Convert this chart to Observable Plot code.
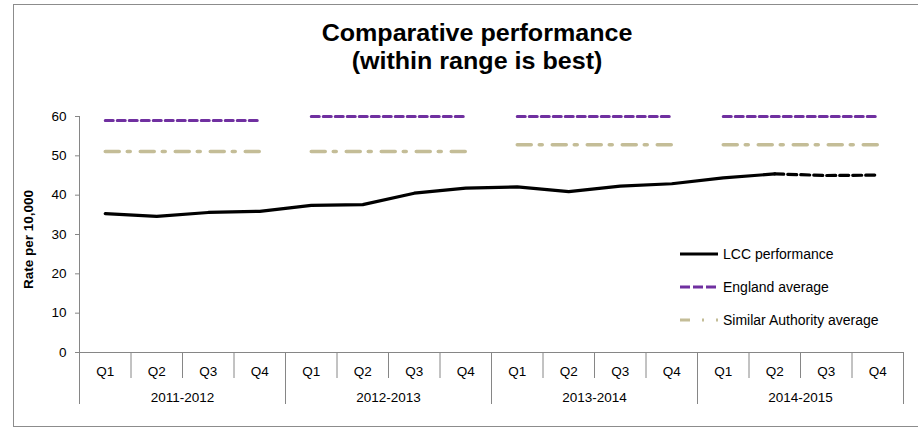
<!DOCTYPE html>
<html>
<head>
<meta charset="utf-8">
<script src="https://cdn.jsdelivr.net/npm/d3@7"></script>
<script src="https://cdn.jsdelivr.net/npm/@observablehq/plot@0.6"></script>
<style>
  html, body { margin: 0; padding: 0; background: #fff; overflow: hidden; }
  #wrap { position: relative; width: 918px; height: 428px; font-family: "Liberation Sans", Arial, sans-serif; }
  #border { position: absolute; left: 13px; top: 4px; width: 930px; height: 421px; border: 1px solid #8c8c8c; }
  #title { position: absolute; left: 0; top: 19px; width: 954px; text-align: center; font-weight: bold; font-size: 23px; line-height: 28px; color: #000; transform: scaleX(1.09); transform-origin: 477px 0; }
  #chart { position: absolute; left: 0; top: 0; }
  .leg { position: absolute; left: 680px; height: 20px; display: flex; align-items: center; font-size: 14px; color: #000; }
  .leg svg { display: block; margin-right: 4px; }
</style>
</head>
<body>
<div id="wrap">
  <div id="border"></div>
  <div id="chart"></div>
  <div id="title"></div>
  <div id="legend"></div>
</div>
<script>
// ---- data ----
const titleLines = ["Comparative performance", "(within range is best)"];
const yLabel = "Rate per 10,000";
const years = ["2011-2012", "2012-2013", "2013-2014", "2014-2015"];
const quarters = ["Q1", "Q2", "Q3", "Q4"];
const lccValues = [35.3, 34.6, 35.6, 35.9, 37.4, 37.6, 40.5, 41.8, 42.1, 40.9, 42.3, 42.9, 44.4, 45.4, 45.0, 45.1];
const lccDashedFrom = 13; // projected part starts after 2014-2015 Q2
const englandAvg = [59, 60, 60, 60];
const similarAvg = [51.1, 51.1, 52.8, 52.8];
const yTicks = [0, 10, 20, 30, 40, 50, 60];
const seriesNames = ["LCC performance", "England average", "Similar Authority average"];
const colors = { lcc: "#000000", england: "#7030A0", similar: "#C4BD97", axis: "#868686" };

// ---- derived tables ----
const cats = years.flatMap((y, yi) => quarters.map((q, qi) => ({ i: yi * quarters.length + qi, year: y, q })));
const n = cats.length;
const lccRows = cats.map((c, k) => ({ ...c, v: lccValues[k] }));
const lccSolid = lccRows.filter(d => d.i <= lccDashedFrom);
const lccDashed = lccRows.filter(d => d.i >= lccDashedFrom);
const engRows = cats.map(c => ({ ...c, v: englandAvg[years.indexOf(c.year)] }));
const simRows = cats.map(c => ({ ...c, v: similarAvg[years.indexOf(c.year)] }));
const seps = d3.range(n + 1).map(k => k - 0.5);
const yearSeps = seps.filter((s, k) => k % quarters.length === 0);
const quarterSeps = seps.filter((s, k) => k % quarters.length !== 0);
const qCenters = cats.map(c => c.i);
const yearCenters = years.map((y, yi) => yi * quarters.length + (quarters.length - 1) / 2);

const chart = Plot.plot({
  width: 918,
  height: 428,
  marginLeft: 79,
  marginRight: 15,
  marginTop: 116,
  marginBottom: 76,
  style: { background: "transparent", fontFamily: "'Liberation Sans', Arial, sans-serif", fontSize: "13.5px", color: "#000" },
  x: { type: "linear", domain: [seps[0], seps[seps.length - 1]] },
  y: { domain: [0, 60] },
  marks: [
    // axes
    Plot.axisY({ ticks: yTicks, tickSize: 4, tickPadding: 9, stroke: colors.axis, label: null, fontSize: 13.5 }),
    Plot.text([yLabel], { frameAnchor: "left", textAnchor: "middle", rotate: -90, dx: -51, dy: 5, fontWeight: "bold", fontSize: 13.5 }),
    Plot.ruleX([seps[0]], { y1: yTicks[0], y2: yTicks[yTicks.length - 1], stroke: colors.axis }),
    Plot.ruleY([0], { stroke: colors.axis }),
    Plot.axisX({ ticks: quarterSeps, tickSize: 26, tickFormat: () => "", stroke: colors.axis, label: null }),
    Plot.axisX({ ticks: yearSeps, tickSize: 52, tickFormat: () => "", stroke: colors.axis, label: null }),
    Plot.axisX({ ticks: qCenters, tickSize: 0, tickPadding: 14, tickFormat: i => cats[i].q, label: null, fontSize: 13.5 }),
    Plot.axisX({ ticks: yearCenters, tickSize: 0, tickPadding: 40, tickFormat: x => years[Math.round((x - 1.5) / quarters.length)], label: null, fontSize: 13.5 }),
    // series
    Plot.line(engRows, { x: "i", y: "v", z: "year", stroke: colors.england, strokeWidth: 3, strokeDasharray: "8,4" }),
    Plot.line(simRows, { x: "i", y: "v", z: "year", stroke: colors.similar, strokeWidth: 3.5, strokeDasharray: "14,8,3,10" }),
    Plot.line(lccSolid, { x: "i", y: "v", stroke: colors.lcc, strokeWidth: 3.2, strokeLinejoin: "round" }),
    Plot.line(lccDashed, { x: "i", y: "v", stroke: colors.lcc, strokeWidth: 3.2, strokeDasharray: "9,4" })
  ]
});
document.getElementById("chart").appendChild(chart);

// title
document.getElementById("title").innerHTML = titleLines.join("<br>");

// legend
const legendItems = [
  { name: seriesNames[0], stroke: colors.lcc, dash: null, width: 3 },
  { name: seriesNames[1], stroke: colors.england, dash: "10,3", width: 3 },
  { name: seriesNames[2], stroke: colors.similar, dash: "10,12,2,12", width: 3 }
];
const legendTops = [244, 277, 310];
const legend = document.getElementById("legend");
legendItems.forEach((it, k) => {
  const row = document.createElement("div");
  row.className = "leg";
  row.style.top = legendTops[k] + "px";
  row.innerHTML = `<svg width="39" height="10"><line x1="0" y1="5" x2="38" y2="5" stroke="${it.stroke}" stroke-width="${it.width}" ${it.dash ? `stroke-dasharray="${it.dash}"` : ""}/></svg><span>${it.name}</span>`;
  legend.appendChild(row);
});
</script>
</body>
</html>
